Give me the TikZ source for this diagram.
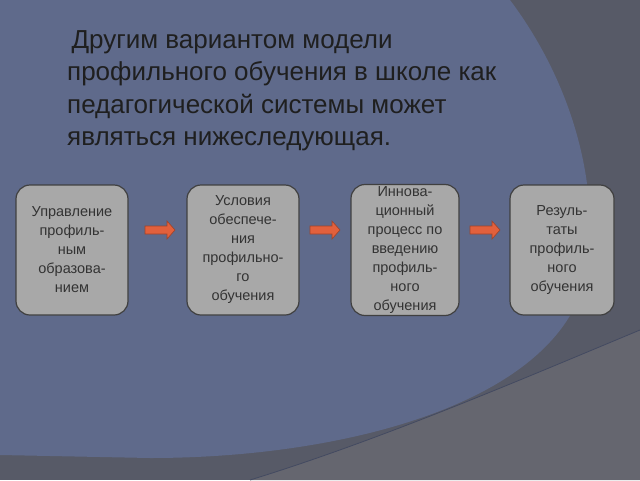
\documentclass[tikz,border=0pt]{standalone}
\usepackage{fontspec}
\setmainfont{Liberation Sans}
\definecolor{bgdark}{HTML}{575A67}
\definecolor{bgblue}{HTML}{5F6A8B}
\definecolor{bglight}{HTML}{65666F}
\definecolor{boxg}{HTML}{A8A8A8}
\definecolor{arr}{HTML}{E2603C}
\tikzset{box/.style={draw=black!75,line width=1.2pt,fill=boxg,rounded corners=14pt,minimum width=112pt,minimum height=130pt,align=center,font=\fontsize{14.5}{19}\selectfont,text=black!80,inner sep=2pt},
arrowshape/.style={draw=arr!70!black,fill=arr,line width=0.6pt}}
\newcommand{\myarrow}[2]{\draw[arrowshape] (#1-15,#2-4) -- (#1+7,#2-4) -- (#1+7,#2-9) -- (#1+15,#2) -- (#1+7,#2+9) -- (#1+7,#2+4) -- (#1-15,#2+4) -- cycle;}
\begin{document}
\begin{tikzpicture}[x=1pt,y=-1pt]
\useasboundingbox (0,0) rectangle (640,480);
\fill[bgdark] (0,0) rectangle (640,480);
\fill[bglight] (640,330) .. controls (520,380) and (380,440) .. (250,480) -- (640,480) -- cycle;
\fill[bgblue] (0,0) -- (510,0) .. controls (570,80) and (600,180) .. (587,270) .. controls (565,400) and (350,458) .. (150,458) -- (0,455) -- cycle;
\draw[bgblue!70!black,line width=0.8pt] (640,330) .. controls (520,380) and (380,440) .. (250,480);
\node[anchor=north west,align=left,font=\fontsize{26}{32.5}\selectfont,text=black!88,inner sep=0] (title) at (67,30) {\,Другим вариантом модели\\профильного обучения в школе как\\педагогической системы может\\являться нижеследующая.};
\node[box] (b1) at (72,250) {Управление\\профиль-\\ным\\образова-\\нием};
\node[box] (b2) at (243,250) {Условия\\обеспече-\\ния\\профильно-\\го\\обучения};
\node[box,minimum width=108pt] (b3) at (405,250) {Иннова-\\ционный\\процесс по\\введению\\профиль-\\ного\\обучения};
\node[box,minimum width=104pt] (b4) at (562,250) {Резуль-\\таты\\профиль-\\ного\\обучения};
\myarrow{160}{230}
\myarrow{325}{230}
\myarrow{485}{230}
\end{tikzpicture}
\end{document}
